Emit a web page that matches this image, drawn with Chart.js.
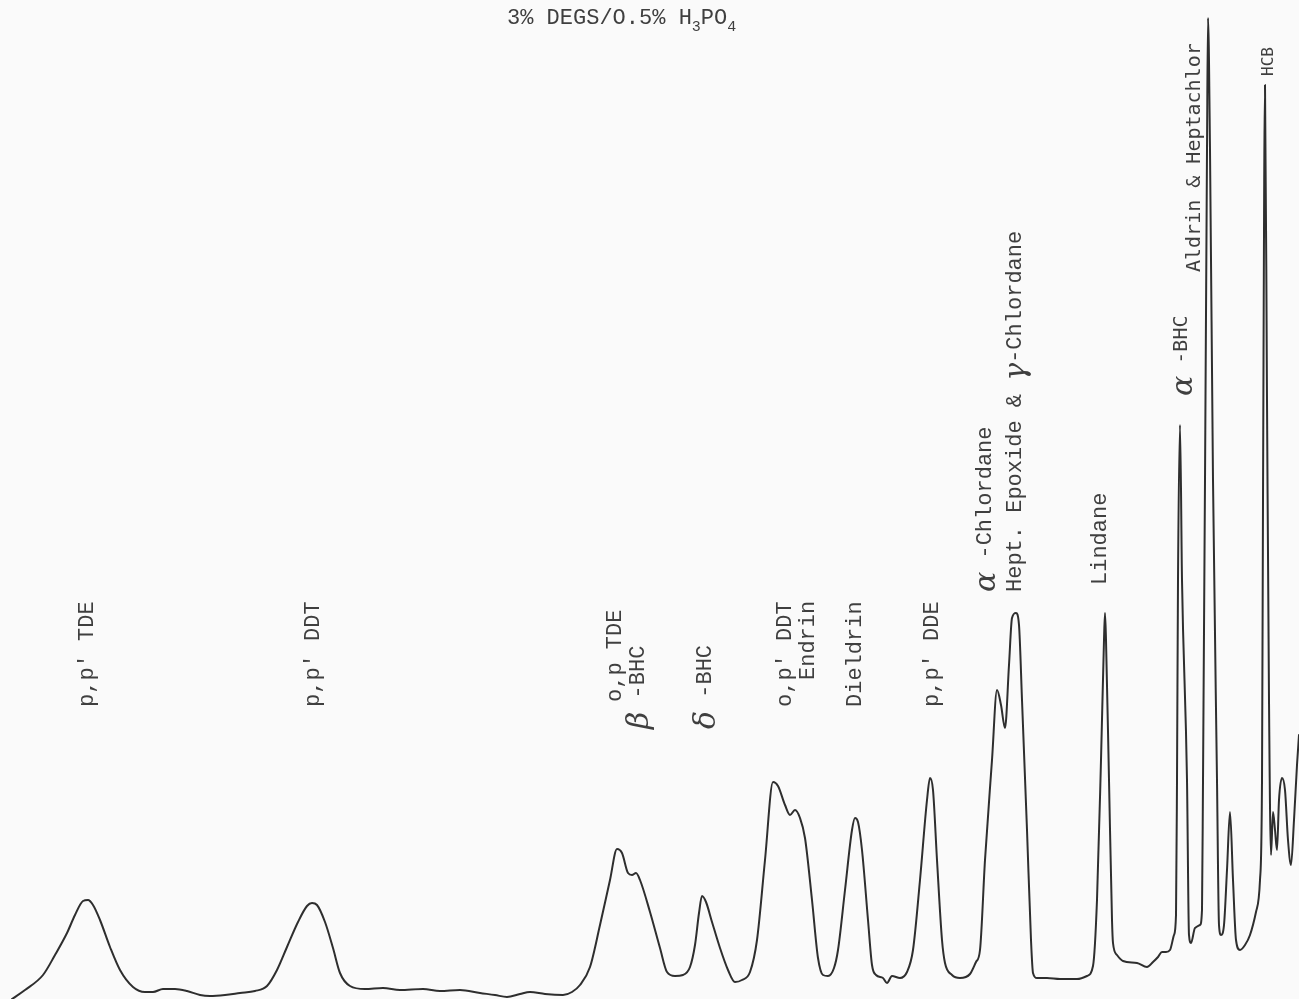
<!DOCTYPE html>
<html>
<head>
<meta charset="utf-8">
<script src="https://cdn.jsdelivr.net/npm/chart.js@4.4.0/dist/chart.umd.min.js"></script>
<style>
  html, body { margin: 0; padding: 0; background: #fafafa; }
  canvas { display: block; }
</style>
</head>
<body>
<canvas id="c" width="1299" height="999"></canvas>
<script>
// Retention position (chart units, left = late eluting, right = early eluting)
const retention = [
  12,25,43,55,67,75,83,88,93,100,110,120,133,145,153,163,175,187,200,210,225,240,255,267,277,287,298,307,312,317,325,333,340,350,365,383,400,423,440,460,480,495,507,520,530,545,563,572,580,590,600,610,617,622,628,632,636,640,650,660,667,675,683,690,695,699,702,706,712,720,728,735,742,750,757,765,773,778,785,790,795,800,805,812,818,823,828,834,838,845,852,855,858,862,868,872,876,883,887,892,900,907,913,920,927,930,933,937,942,945,952,960,970,976,980,985,992,997,1001,1005,1009,1012,1016,1019,1022,1027,1031,1033,1037,1047,1060,1077,1087,1093,1097,1101,1104,1105,1106,1109,1112,1113,1117,1123,1137,1147,1153,1158,1162,1166,1170,1174,1176,1177,1178,1180,1182,1187,1189,1191,1195,1200,1202,1203,1205,1207,1208,1210,1213,1217,1219,1221,1224,1227,1230,1233,1236,1240,1245,1250,1256,1260,1262,1263,1265,1267,1269,1271,1273,1275,1277,1279,1282,1285,1288,1291,1294,1297,1299
];
// Detector response (chart units)
const response = [
  0,9,24,44,66,84,98,99,94,79,52,29,12,7,7,10,10,8,4,3,4,6,8,13,29,52,77,93,96,94,77,51,26,13,10,11,9,10,8,9,6,4,2,5,7,5,4,7,14,32,74,119,150,146,126,124,126,119,87,51,27,23,24,32,54,86,103,97,77,51,29,17,19,27,59,139,217,213,194,184,189,181,161,99,41,24,23,31,49,109,169,181,177,149,79,34,24,21,16,23,21,27,49,119,199,221,209,139,59,36,24,21,25,37,49,139,239,309,294,271,334,381,386,374,299,169,59,26,21,21,20,20,23,33,99,239,359,386,359,219,79,56,44,38,36,32,37,42,47,47,49,64,84,219,419,574,419,219,64,56,71,74,89,219,519,849,981,849,519,219,74,64,74,129,187,119,59,49,54,64,87,119,219,499,914,599,299,144,187,169,149,199,221,209,159,134,179,234,264
];

// Peak labels (text pieces), with retention anchor and response anchor where text starts
const peakTexts = [
  [["", "p,p' TDE"]],
  [["", "p,p' DDT"]],
  [["", "o,p TDE"]],
  [["g", "β"], ["", " -BHC"]],
  [["g", "δ"], ["", " -BHC"]],
  [["", "o,p' DDT"]],
  [["", "Endrin"]],
  [["", "Dieldrin"]],
  [["", "p,p' DDE"]],
  [["g", "α"], ["", " -Chlordane"]],
  [["", "Hept. Epoxide & "], ["g", "γ"], ["", "-Chlordane"]],
  [["", "Lindane"]],
  [["g", "α"], ["n", " -BHC"]],
  [["n", "Aldrin & Heptachlor"]],
  [["s", "HCB"]]
];
const peakTextX = [87, 313, 615, 638, 705, 785, 808, 855, 932, 985, 1015, 1100, 1182, 1195, 1269];
const peakTextY = [292, 292, 297, 270, 270, 292, 319, 292, 292, 407, 407, 414, 603, 727, 923];

const titleParts = [["", "3% DEGS/O.5% H"], ["sub", "3"], ["", "PO"], ["sub", "4"]];

const fonts = {
  "": "22px 'Liberation Mono', 'DejaVu Sans Mono', monospace",
  "g": "italic 30px 'DejaVu Serif', serif",
  "n": "20px 'DejaVu Sans Mono', monospace",
  "s": "16px 'DejaVu Sans Mono', monospace",
  "sub": "15px 'Liberation Mono', monospace"
};

const textPlugin = {
  id: 'chromLabels',
  afterDatasetsDraw(chart) {
    const ctx = chart.ctx;
    const xs = chart.scales.x, ys = chart.scales.y;
    ctx.save();
    ctx.fillStyle = '#3f3f3f';
    peakTexts.forEach((parts, i) => {
      const px = xs.getPixelForValue(peakTextX[i]);
      const py = ys.getPixelForValue(peakTextY[i]);
      ctx.save();
      ctx.translate(px, py);
      ctx.rotate(-Math.PI / 2);
      ctx.textBaseline = 'middle';
      ctx.textAlign = 'left';
      let cx = 0;
      parts.forEach(([k, t]) => {
        ctx.font = fonts[k];
        ctx.fillText(t, cx, k === 'g' ? 2 : 0);
        cx += ctx.measureText(t).width;
      });
      ctx.restore();
    });
    // title
    let tx = 507;
    const base = 24;
    ctx.textBaseline = 'alphabetic';
    titleParts.forEach(([k, t]) => {
      ctx.font = fonts[k];
      ctx.fillText(t, tx, k === 'sub' ? base + 7 : base);
      tx += ctx.measureText(t).width;
    });
    ctx.restore();
  }
};

new Chart(document.getElementById('c'), {
  type: 'line',
  data: {
    datasets: [{
      data: retention.map((r, i) => ({ x: r, y: response[i] })),
      borderColor: '#2e2e2e',
      borderWidth: 2,
      pointRadius: 0,
      cubicInterpolationMode: 'monotone',
      fill: false
    }]
  },
  options: {
    responsive: false,
    animation: false,
    devicePixelRatio: 1,
    layout: { padding: 0 },
    plugins: { legend: { display: false }, tooltip: { enabled: false }, title: { display: false } },
    scales: {
      x: { type: 'linear', min: 0, max: 1299, display: false },
      y: { type: 'linear', min: 0, max: 999, display: false }
    },
    elements: { line: { borderJoinStyle: 'round', borderCapStyle: 'round' } }
  },
  plugins: [textPlugin]
});
</script>
</body>
</html>
